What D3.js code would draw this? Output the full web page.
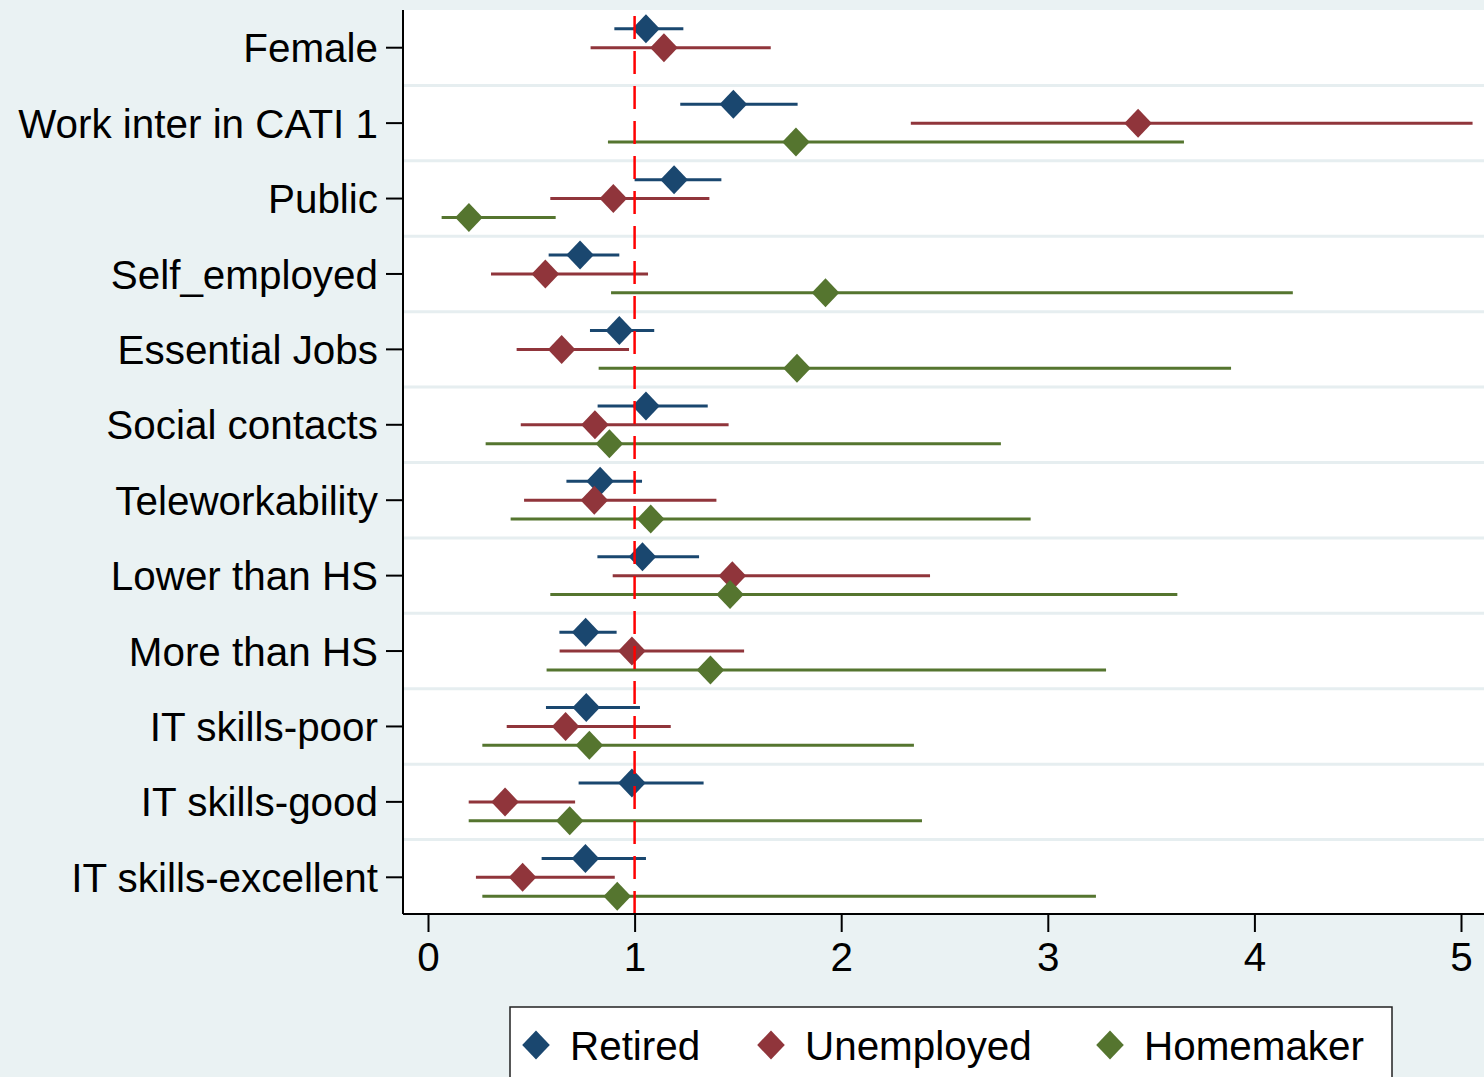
<!DOCTYPE html>
<html>
<head>
<meta charset="utf-8">
<script src="https://cdn.jsdelivr.net/npm/d3@7"></script>
<style>
  html, body { margin: 0; padding: 0; background: #eaf2f3; }
  svg { display: block; }
  text { font-family: "Liberation Sans", Arial, Helvetica, sans-serif; fill: #000; }
</style>
</head>
<body>
<svg id="chart" width="1484" height="1077"></svg>
<script>
// Odds ratios with 95% confidence intervals, by inactivity status
const categories = [
  "Female", "Work inter in CATI 1", "Public", "Self_employed", "Essential Jobs",
  "Social contacts", "Teleworkability", "Lower than HS", "More than HS",
  "IT skills-poor", "IT skills-good", "IT skills-excellent"
];

const retiredEst = [1.055, 1.478, 1.191, 0.736, 0.926, 1.055, 0.833, 1.038, 0.763, 0.766, 0.987, 0.762];
const retiredLo  = [0.902, 1.221, 1.000, 0.584, 0.784, 0.821, 0.670, 0.820, 0.636, 0.571, 0.729, 0.550];
const retiredHi  = [1.236, 1.789, 1.420, 0.926, 1.095, 1.354, 1.036, 1.312, 0.913, 1.026, 1.334, 1.055];

const unemployedEst = [1.142, 3.437, 0.897, 0.568, 0.647, 0.808, 0.805, 1.473, 0.987, 0.666, 0.373, 0.458];
const unemployedLo  = [0.787, 2.337, 0.592, 0.305, 0.429, 0.449, 0.465, 0.894, 0.637, 0.381, 0.197, 0.232];
const unemployedHi  = [1.659, 5.056, 1.362, 1.065, 0.973, 1.455, 1.396, 2.430, 1.530, 1.175, 0.712, 0.904];

const homemakerEst = [null, 1.781, 0.198, 1.924, 1.786, 0.878, 1.078, 1.462, 1.367, 0.781, 0.686, 0.916];
const homemakerLo  = [null, 0.871, 0.066, 0.886, 0.826, 0.279, 0.400, 0.592, 0.574, 0.263, 0.197, 0.263];
const homemakerHi  = [null, 3.659, 0.618, 4.186, 3.887, 2.773, 2.917, 3.627, 3.282, 2.352, 2.391, 3.233];

const seriesNames = ["Retired", "Unemployed", "Homemaker"];
const seriesColors = ["#1a476f", "#90353b", "#55752f"];
const xTickValues = [0, 1, 2, 3, 4, 5];
const referenceValue = 1;

const series = [
  { name: seriesNames[0], color: seriesColors[0], est: retiredEst, lo: retiredLo, hi: retiredHi, offset: -0.25 },
  { name: seriesNames[1], color: seriesColors[1], est: unemployedEst, lo: unemployedLo, hi: unemployedHi, offset: 0 },
  { name: seriesNames[2], color: seriesColors[2], est: homemakerEst, lo: homemakerLo, hi: homemakerHi, offset: 0.25 }
];

const svg = d3.select("#chart");
const W = 1484, H = 1077;
const plot = { left: 403, top: 10, right: 1484, bottom: 915 };
const fontSize = 40.4;

svg.append("rect").attr("width", W).attr("height", H).attr("fill", "#eaf2f3");
svg.append("rect")
  .attr("x", plot.left).attr("y", plot.top)
  .attr("width", plot.right - plot.left).attr("height", plot.bottom - plot.top)
  .attr("fill", "#ffffff");

const x = d3.scaleLinear().domain([0, 5]).range([428, 1461]);
const y = d3.scaleBand().domain(categories).range([plot.top, plot.bottom]).padding(0);
const bw = y.bandwidth();

// Separators between coefficient groups
const grid = svg.append("g");
categories.slice(1).forEach(c => {
  grid.append("line")
    .attr("x1", plot.left).attr("x2", plot.right)
    .attr("y1", y(c)).attr("y2", y(c))
    .attr("stroke", "#e6eef0").attr("stroke-width", 3);
});

// Confidence intervals and point estimates
const diamond = "M0,-14.5L13.8,0L0,14.5L-13.8,0Z";
series.forEach(s => {
  const g = svg.append("g");
  const rows = categories.map((c, i) => ({ c, est: s.est[i], lo: s.lo[i], hi: s.hi[i] }))
    .filter(d => d.est !== null);
  const cy = d => y(d.c) + bw / 2 + s.offset * bw;
  g.selectAll("line").data(rows).join("line")
    .attr("x1", d => x(d.lo)).attr("x2", d => x(d.hi))
    .attr("y1", cy).attr("y2", cy)
    .attr("stroke", s.color).attr("stroke-width", 3);
  g.selectAll("path").data(rows).join("path")
    .attr("d", diamond)
    .attr("transform", d => `translate(${x(d.est)},${cy(d)})`)
    .attr("fill", s.color);
});

// Reference line at an odds ratio of 1
svg.append("line")
  .attr("x1", x(referenceValue)).attr("x2", x(referenceValue))
  .attr("y1", plot.bottom - 1).attr("y2", plot.top)
  .attr("stroke", "#ff0000").attr("stroke-width", 2.5)
  .attr("stroke-dasharray", "23,12");

// Y axis
const yAxis = svg.append("g")
  .attr("transform", `translate(${plot.left},0)`)
  .call(d3.axisLeft(y).tickSize(17).tickPadding(8));
yAxis.select(".domain").attr("stroke", "#000").attr("stroke-width", 2)
  .attr("d", `M0,${plot.top}V${plot.bottom - 1}`);
yAxis.selectAll(".tick line").attr("stroke", "#000").attr("stroke-width", 2);
yAxis.selectAll(".tick text")
  .attr("font-size", fontSize).attr("dy", "0.36em")
  .style("font-family", "'Liberation Sans', Arial, Helvetica, sans-serif");

// X axis
const xAxis = svg.append("g")
  .attr("transform", `translate(0,${plot.bottom - 1})`)
  .call(d3.axisBottom(x).tickValues(xTickValues).tickFormat(d3.format("d")).tickSize(18).tickPadding(10));
xAxis.select(".domain").attr("stroke", "#000").attr("stroke-width", 2)
  .attr("d", `M${plot.left},0H${plot.right}`);
xAxis.selectAll(".tick line").attr("stroke", "#000").attr("stroke-width", 2);
xAxis.selectAll(".tick text")
  .attr("font-size", fontSize).attr("dy", "0.71em")
  .style("font-family", "'Liberation Sans', Arial, Helvetica, sans-serif");

// Legend
const legend = svg.append("g");
legend.append("rect")
  .attr("x", 510).attr("y", 1007).attr("width", 882).attr("height", 100)
  .attr("fill", "#ffffff").attr("stroke", "#222").attr("stroke-width", 1.5);
const legendX = [536, 771, 1110];
series.forEach((s, i) => {
  legend.append("path").attr("d", diamond)
    .attr("transform", `translate(${legendX[i]},1045)`)
    .attr("fill", s.color);
  legend.append("text")
    .attr("x", legendX[i] + 34).attr("y", 1060)
    .attr("font-size", fontSize)
    .text(s.name);
});
</script>
</body>
</html>
